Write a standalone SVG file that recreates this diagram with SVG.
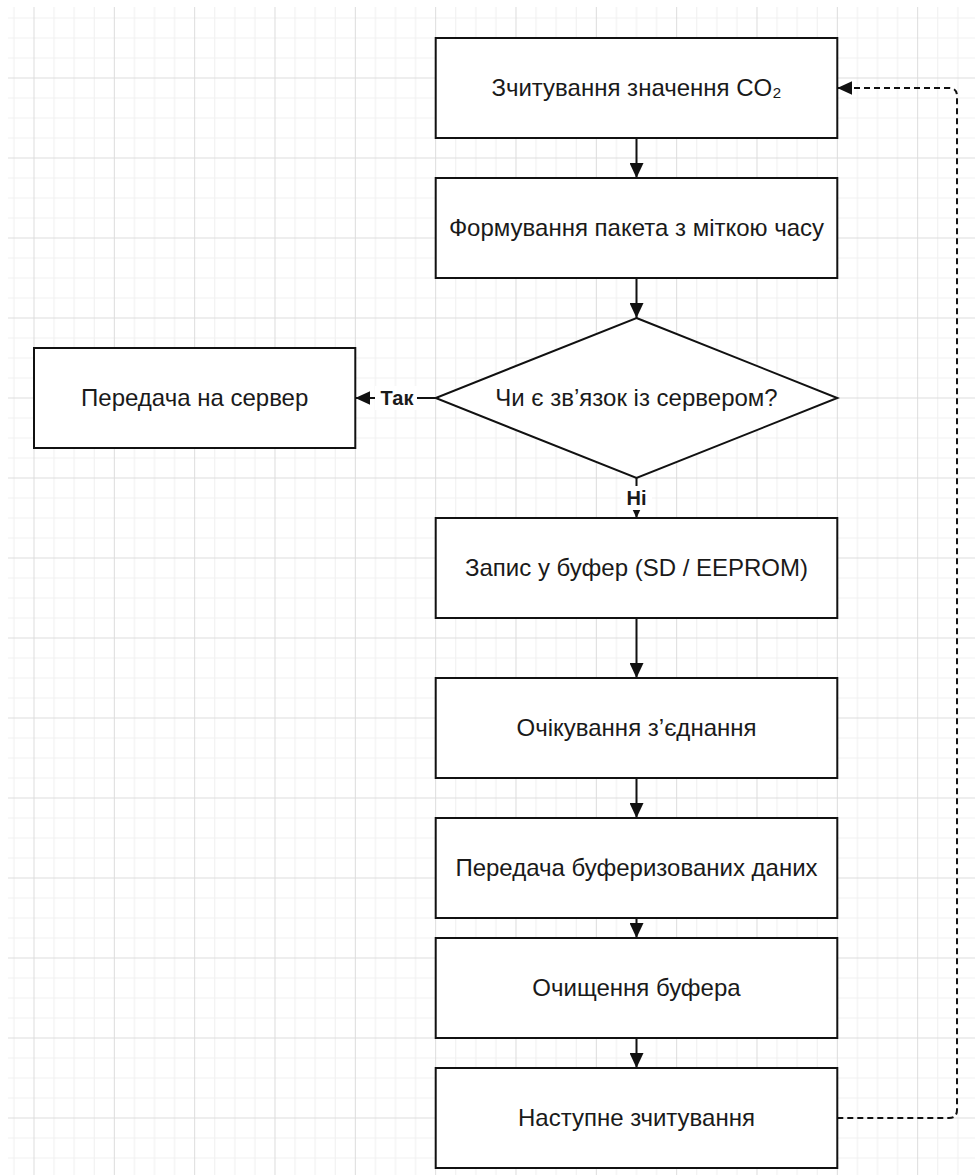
<svg xmlns="http://www.w3.org/2000/svg" width="975" height="1175" viewBox="0 0 975 1175">
  <style>
    .box { fill: #ffffff; stroke: #111111; stroke-width: 2; }
    .txt { font-family: "Liberation Sans", Arial, sans-serif; font-size: 24px; fill: #1a1a1a; text-anchor: middle; }
    .lbl { font-family: "Liberation Sans", Arial, sans-serif; font-size: 20px; font-weight: bold; fill: #1a1a1a; text-anchor: middle; }
    .edge { fill: none; stroke: #111111; stroke-width: 2; }
    .dash { fill: none; stroke: #111111; stroke-width: 2; stroke-dasharray: 6 4; }
    .minor { stroke: #f0f0f0; stroke-width: 1; fill: none; }
    .major { stroke: #dcdcdc; stroke-width: 1; fill: none; }
  </style>
  <defs>
    <pattern id="grid" x="33.5" y="77.5" width="80.333" height="80" patternUnits="userSpaceOnUse">
      <path class="minor" d="M20.58,0V80M40.67,0V80M60.75,0V80M0,20.5H80.333M0,40.5H80.333M0,60.5H80.333"/>
      <path class="major" d="M0.5,0V80M0,0.5H80.333"/>
    </pattern>
    <marker id="arrow" viewBox="0 0 15 14" refX="15" refY="7" markerWidth="15" markerHeight="14" markerUnits="userSpaceOnUse" orient="auto">
      <path d="M0,0 L15,7 L0,14 z" fill="#111111" stroke="none"/>
    </marker>
  </defs>
  <rect x="0" y="0" width="975" height="1175" fill="#ffffff"/>
  <rect x="8" y="7" width="967" height="1168" fill="url(#grid)"/>

  <g id="connectors">
    <path class="edge" d="M636.5,138 V178" marker-end="url(#arrow)"/>
    <path class="edge" d="M636.5,278 V318" marker-end="url(#arrow)"/>
    <path class="edge" d="M435.7,398 H355.3" marker-end="url(#arrow)"/>
    <path class="edge" d="M636.5,478 V518" marker-end="url(#arrow)"/>
    <path class="edge" d="M636.5,618 V678" marker-end="url(#arrow)"/>
    <path class="edge" d="M636.5,778 V818" marker-end="url(#arrow)"/>
    <path class="edge" d="M636.5,918 V938" marker-end="url(#arrow)"/>
    <path class="edge" d="M636.5,1038 V1068" marker-end="url(#arrow)"/>
    <path class="dash" d="M837.3,1118 H949 Q957,1118 957,1110 V96 Q957,88 949,88 H837.3" marker-end="url(#arrow)"/>
    <g id="label-yes">
      <rect x="375" y="386" width="42" height="24" fill="#ffffff"/>
      <text class="lbl" x="397" y="405">Так</text>
    </g>
    <g id="label-no">
      <rect x="621" y="486" width="31" height="24" fill="#ffffff"/>
      <text class="lbl" x="636.5" y="505">Ні</text>
    </g>
  </g>

  <g id="n1">
    <rect class="box" x="435.7" y="38" width="401.6" height="100"/>
    <text class="txt" x="636.5" y="96">Зчитування значення CO₂</text>
  </g>
  <g id="n2">
    <rect class="box" x="435.7" y="178" width="401.6" height="100"/>
    <text class="txt" x="636.5" y="236">Формування пакета з міткою часу</text>
  </g>
  <g id="n3">
    <polygon class="box" points="636.5,318 837.3,398 636.5,478 435.7,398"/>
    <text class="txt" x="636.5" y="406">Чи є зв’язок із сервером?</text>
  </g>
  <g id="n4">
    <rect class="box" x="34" y="348" width="321.3" height="100"/>
    <text class="txt" x="194.7" y="406">Передача на сервер</text>
  </g>
  <g id="n5">
    <rect class="box" x="435.7" y="518" width="401.6" height="100"/>
    <text class="txt" x="636.5" y="576">Запис у буфер (SD / EEPROM)</text>
  </g>
  <g id="n6">
    <rect class="box" x="435.7" y="678" width="401.6" height="100"/>
    <text class="txt" x="636.5" y="736">Очікування з’єднання</text>
  </g>
  <g id="n7">
    <rect class="box" x="435.7" y="818" width="401.6" height="100"/>
    <text class="txt" x="636.5" y="876">Передача буферизованих даних</text>
  </g>
  <g id="n8">
    <rect class="box" x="435.7" y="938" width="401.6" height="100"/>
    <text class="txt" x="636.5" y="996">Очищення буфера</text>
  </g>
  <g id="n9">
    <rect class="box" x="435.7" y="1068" width="401.6" height="100"/>
    <text class="txt" x="636.5" y="1126">Наступне зчитування</text>
  </g>
</svg>
